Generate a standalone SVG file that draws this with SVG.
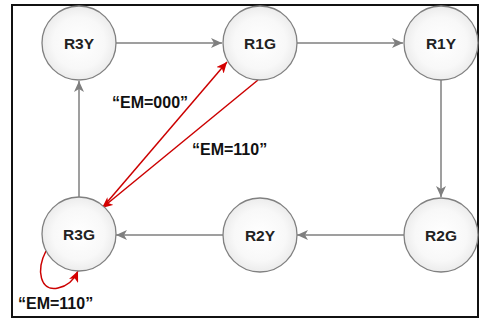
<svg xmlns="http://www.w3.org/2000/svg" width="482" height="320" viewBox="0 0 482 320">
<defs>
<radialGradient id="g" cx="50%" cy="50%" r="50%">
<stop offset="0" stop-color="#ffffff"/>
<stop offset="0.7" stop-color="#f8f8f8"/>
<stop offset="1" stop-color="#ececec"/>
</radialGradient>
<marker id="ag" markerWidth="12" markerHeight="10" refX="11" refY="5" orient="auto" markerUnits="userSpaceOnUse">
<path d="M0,0 L11,5 L0,10 L3,5 Z" fill="#7f7f7f"/>
</marker>
<marker id="ar" markerWidth="12" markerHeight="10" refX="11" refY="5" orient="auto" markerUnits="userSpaceOnUse">
<path d="M0,0 L11,5 L0,10 L3,5 Z" fill="#d40000"/>
</marker>
</defs>
<style>
.n{fill:url(#g);stroke:#808080;stroke-width:1.3}
.t{font-family:"Liberation Sans",Arial,sans-serif;font-weight:bold;font-size:15.5px;fill:#222;text-anchor:middle}
.l{font-family:"Liberation Sans",Arial,sans-serif;font-weight:bold;font-size:16px;fill:#111}
.e{stroke:#7f7f7f;stroke-width:1.5;fill:none;marker-end:url(#ag)}
.r{stroke:#cc0000;stroke-width:1.5;fill:none;marker-end:url(#ar)}
</style>
<rect x="12" y="5" width="466" height="312" fill="#fff" stroke="#111" stroke-width="2"/>
<g id="connectors">
<line class="e" x1="116" y1="43" x2="222" y2="43"/>
<line class="e" x1="297" y1="43" x2="403" y2="43"/>
<line class="e" x1="441" y1="80" x2="441" y2="197"/>
<line class="e" x1="404" y1="235" x2="297" y2="235"/>
<line class="e" x1="223" y1="235" x2="116" y2="235"/>
<line class="e" x1="79" y1="198" x2="79" y2="81"/>
<line class="r" x1="103" y1="207" x2="227" y2="62"/>
<line class="r" x1="258" y1="80" x2="102" y2="208"/>
<path class="r" d="M46,251 C36,270 40,292 58,288 C68,286 74,280 78,271"/>
</g>
<g id="R3Y"><circle class="n" cx="79" cy="43" r="37"/><text class="t" x="79" y="49">R3Y</text></g>
<g id="R1G"><circle class="n" cx="260" cy="43" r="37"/><text class="t" x="260" y="49">R1G</text></g>
<g id="R1Y"><circle class="n" cx="441" cy="43" r="37"/><text class="t" x="441" y="49">R1Y</text></g>
<g id="R2G"><circle class="n" cx="441" cy="235" r="37"/><text class="t" x="441" y="241">R2G</text></g>
<g id="R2Y"><circle class="n" cx="260" cy="235" r="37"/><text class="t" x="260" y="241">R2Y</text></g>
<g id="R3G"><circle class="n" cx="79" cy="234" r="37"/><text class="t" x="79" y="240">R3G</text></g>
<g id="labels">
<text class="l" x="112" y="108">“EM=000”</text>
<text class="l" x="192" y="155">“EM=110”</text>
<text class="l" x="18" y="309">“EM=110”</text>
</g>
</svg>
